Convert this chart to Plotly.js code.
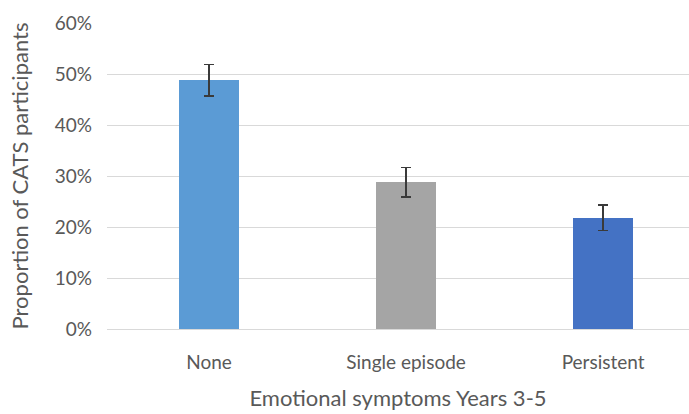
<!DOCTYPE html>
<html>
<head>
<meta charset="utf-8">
<script src="https://cdn.plot.ly/plotly-3.0.1.min.js"></script>
<style>html,body{margin:0;padding:0;overflow:hidden;background:#fff;}#chart{width:689px;height:414px;}</style>
</head>
<body>
<div id="chart"></div>
<script>
const categories = ["None", "Single episode", "Persistent"];
const proportions = [0.488, 0.288, 0.218];
const errorPlusMinus = [0.031, 0.029, 0.025];
const barColors = ["#5B9BD5", "#A5A5A5", "#4472C4"];
const yTickVals = [0, 0.1, 0.2, 0.3, 0.4, 0.5, 0.6];
const yTickText = ["0%", "10%", "20%", "30%", "40%", "50%", "60%"];

const font = "Lato, 'Open Sans', sans-serif";
const trace = {
  type: "bar",
  x: categories,
  y: proportions,
  width: 0.305,
  marker: {color: barColors, line: {width: 0}},
  error_y: {type: "data", array: errorPlusMinus, visible: true, color: "#3a3a3a", thickness: 1.5, width: 5},
  hoverinfo: "none"
};
const layout = {
  width: 689, height: 414,
  margin: {l: 107, r: 0, t: 23, b: 85},
  paper_bgcolor: "#fff", plot_bgcolor: "#fff",
  showlegend: false,
  font: {family: font, color: "#595959", size: 19},
  xaxis: {
    type: "category",
    range: [-0.518, 2.436],
    showgrid: false, zeroline: false,
    showline: false,
    ticks: "", ticklen: 0,
    ticklabelstandoff: 20,
    tickfont: {size: 19, color: "#595959", family: font},
    title: {text: "Emotional symptoms Years 3-5", font: {size: 22, color: "#595959", family: font}, standoff: 18}
  },
  yaxis: {
    range: [0, 0.6],
    tickvals: yTickVals, ticktext: yTickText,
    showgrid: true, gridcolor: "#D9D9D9", gridwidth: 1,
    zeroline: true, zerolinecolor: "#D9D9D9", zerolinewidth: 1,
    showline: false, ticks: "",
    ticklabelstandoff: 14,
    tickfont: {size: 19, color: "#595959", family: font},
    title: {text: "Proportion of CATS participants", font: {size: 22, color: "#595959", family: font}, standoff: 20}
  },
  bargap: 0
};
Plotly.newPlot("chart", [trace], layout, {staticPlot: true, displayModeBar: false});
</script>
</body>
</html>
